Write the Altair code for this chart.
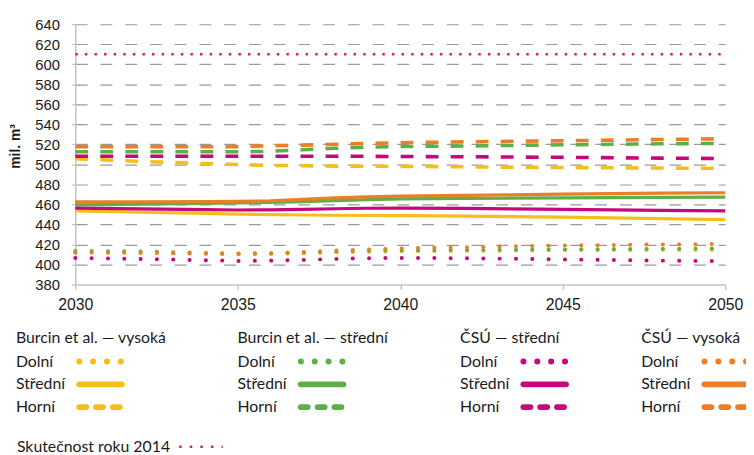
import altair as alt
import pandas as pd

# ---------------- data ----------------
years = [2030, 2032, 2034, 2035, 2036, 2037, 2038, 2039, 2040, 2042, 2045, 2048, 2050]
groups = ["Burcin et al. — vysoká", "Burcin et al. — střední", "ČSÚ — střední", "ČSÚ — vysoká"]
variants = ["Dolní", "Střední", "Horní"]

burcin_vysoka_dolni = [412, 411.5, 410.5, 410, 410.3, 411, 412, 412.5, 413, 413.5, 414.2, 414.4, 414.5]
burcin_vysoka_stredni = [453.5, 452.2, 451, 450.3, 449.8, 449.4, 449.1, 448.9, 448.8, 448.3, 447.2, 445.8, 444.8]
burcin_vysoka_horni = [505.5, 503, 500.8, 499.8, 499, 498.6, 498.2, 498, 498, 497.5, 496.8, 496.3, 496]

burcin_stredni_dolni = [413.5, 413, 411.5, 411, 411.2, 412, 413, 413.6, 414, 414.4, 415, 415.6, 416]
burcin_stredni_stredni = [459.5, 460.3, 461, 461.4, 462, 462.8, 463.8, 464.8, 465.5, 466, 466.5, 467, 467.2]
burcin_stredni_horni = [512.5, 512.5, 512.5, 512.5, 513, 514.5, 516, 517.2, 517.8, 518.3, 519.5, 520.5, 521]

csu_stredni_dolni = [406.5, 405.5, 404.2, 403.5, 403.8, 404.5, 405.5, 406.2, 406.5, 406.2, 405, 403.8, 403.3]
csu_stredni_stredni = [456.3, 455.5, 454.7, 454.4, 454.5, 455, 455.6, 456.1, 456.3, 456, 455, 454, 453.5]
csu_stredni_horni = [508, 508, 508, 508, 508, 508, 508, 508, 507.8, 507.6, 507, 506.2, 505.8]

csu_vysoka_dolni = [412, 411.8, 411, 410.5, 411, 412.3, 413.8, 415, 416, 417.2, 418.9, 420, 420.5]
csu_vysoka_stredni = [462.5, 462.6, 462.8, 463, 463.6, 465, 466.5, 467.5, 468.3, 469, 470.3, 471.2, 471.6]
csu_vysoka_horni = [517.5, 517.5, 517.5, 517.7, 518.5, 519.2, 520, 521, 521.6, 522.5, 523.6, 524.8, 525.6]

reference_label = "Skutečnost roku 2014"
reference_years = [2030, 2050]
reference_values = [610, 610]

y_title = "mil. m³"

# ---------------- tables ----------------
series = {
    (groups[0], "Dolní"): burcin_vysoka_dolni,
    (groups[0], "Střední"): burcin_vysoka_stredni,
    (groups[0], "Horní"): burcin_vysoka_horni,
    (groups[1], "Dolní"): burcin_stredni_dolni,
    (groups[1], "Střední"): burcin_stredni_stredni,
    (groups[1], "Horní"): burcin_stredni_horni,
    (groups[2], "Dolní"): csu_stredni_dolni,
    (groups[2], "Střední"): csu_stredni_stredni,
    (groups[2], "Horní"): csu_stredni_horni,
    (groups[3], "Dolní"): csu_vysoka_dolni,
    (groups[3], "Střední"): csu_vysoka_stredni,
    (groups[3], "Horní"): csu_vysoka_horni,
}
rows = []
for (g, v), vals in series.items():
    for yr, val in zip(years, vals):
        rows.append({"group": g, "variant": v, "year": yr, "value": val})
df = pd.DataFrame(rows)
ref_df = pd.DataFrame({"year": reference_years, "value": reference_values})

# ---------------- styles ----------------
colors = ["#F4BF1C", "#5EAF47", "#C5097C", "#EB7F26"]
ref_color = "#E8232C"
label_font = "Liberation Sans"
legend_font = "Lato"
text_color = "#1a1a1a"

color_enc = alt.Color("group:N", scale=alt.Scale(domain=groups, range=colors), legend=None)

x_enc = alt.X(
    "year:Q",
    scale=alt.Scale(domain=[2030, 2050], nice=False, zero=False),
    axis=alt.Axis(
        values=[2030, 2035, 2040, 2045, 2050], format="d", title=None, grid=False,
        domainColor="#c4c4c4", domainWidth=1.5, tickColor="#c4c4c4", tickWidth=1.5, tickSize=5,
        labelFont=label_font, labelFontSize=16, labelColor=text_color, labelPadding=7,
        labelFlush=False, labelOverlap=False,
    ),
)
y_enc = alt.Y(
    "value:Q",
    scale=alt.Scale(domain=[380, 640], nice=False, zero=False),
    axis=alt.Axis(
        values=list(range(380, 641, 20)), title=y_title, grid=True,
        gridColor="#9a9a9a", gridDash=[12, 13], gridWidth=1.2,
        gridOpacity={"condition": {"test": "datum.value == 380", "value": 0}, "value": 1},
        domainColor="#c4c4c4", domainWidth=1.5, tickColor="#c4c4c4", tickWidth=1.2, tickSize=4,
        labelFont=label_font, labelFontSize=15, labelColor=text_color, labelPadding=12,
        labelOverlap=False, labelSeparation=0,
        titleFont=label_font, titleFontSize=14, titleFontWeight="bold", titleColor=text_color,
        titleAngle=270, titleX=-60, titleY=123, titleAlign="center", titleBaseline="middle",
    ),
)

base = alt.Chart(df).encode(x=x_enc, y=y_enc, color=color_enc, detail="group:N")

dotted = base.transform_filter(alt.datum.variant == "Dolní").mark_line(
    strokeWidth=4, strokeCap="round", strokeDash=[0.1, 16.4])
solid = base.transform_filter(alt.datum.variant == "Střední").mark_line(
    strokeWidth=3.2, strokeCap="butt")
dashed = base.transform_filter(alt.datum.variant == "Horní").mark_line(
    strokeWidth=3.6, strokeCap="butt", strokeDash=[13, 12.3])
ref_line = alt.Chart(ref_df).mark_line(
    color=ref_color, strokeWidth=2.5, strokeDash=[2.5, 7.2]).encode(x=x_enc, y=y_enc)

main = alt.layer(ref_line, dotted, dashed, solid)

# ---------------- legend (pixel layout relative to plot origin) ----------------
col_x = [-60, 164, 389, 572]
header_y = 317
row_y = [341, 364, 387]
swatch_dx = (64, 107)

text_rows = []
sw_rows = []
for ci, g in enumerate(groups):
    text_rows.append({"px": col_x[ci], "py": header_y, "label": g})
    for ri, v in enumerate(variants):
        text_rows.append({"px": col_x[ci], "py": row_y[ri], "label": v})
        sw_rows.append({"group": g, "variant": v, "px": col_x[ci] + swatch_dx[0],
                        "px2": col_x[ci] + swatch_dx[1], "py": row_y[ri]})
text_rows.append({"px": -59, "py": 427, "label": reference_label})
leg_text_df = pd.DataFrame(text_rows)
leg_sw_df = pd.DataFrame(sw_rows)
leg_ref_df = pd.DataFrame({"px": [105], "px2": [149], "py": [427]})

leg_text = alt.Chart(leg_text_df).mark_text(
    align="left", baseline="middle", font=legend_font, fontSize=16, color=text_color).encode(
    x=alt.X("px:Q", scale=None), y=alt.Y("py:Q", scale=None), text="label:N")

sw_base = alt.Chart(leg_sw_df).encode(
    x=alt.X("px:Q", scale=None), x2="px2:Q", y=alt.Y("py:Q", scale=None), color=color_enc)
sw_dot = sw_base.transform_filter(alt.datum.variant == "Dolní").mark_rule(
    strokeWidth=6, strokeCap="round", strokeDash=[0.1, 13.9])
sw_solid = sw_base.transform_filter(alt.datum.variant == "Střední").mark_rule(
    strokeWidth=6, strokeCap="round")
sw_dash = sw_base.transform_filter(alt.datum.variant == "Horní").mark_rule(
    strokeWidth=6, strokeCap="round", strokeDash=[7, 10])
sw_ref = alt.Chart(leg_ref_df).mark_rule(
    color=ref_color, strokeWidth=2.5, strokeDash=[2.5, 8.2]).encode(
    x=alt.X("px:Q", scale=None), x2="px2:Q", y=alt.Y("py:Q", scale=None))

legend = alt.layer(leg_text, sw_dot, sw_solid, sw_dash, sw_ref)

chart = alt.layer(main, legend).resolve_scale(x="independent", y="independent").properties(
    width=657, height=263,
    autosize=alt.AutoSizeParams(type="none"),
    padding={"left": 68, "top": 14, "right": 21, "bottom": 170},
).configure_view(stroke=None)

chart.save("out.html", embed_options={"renderer": "svg", "actions": False})
